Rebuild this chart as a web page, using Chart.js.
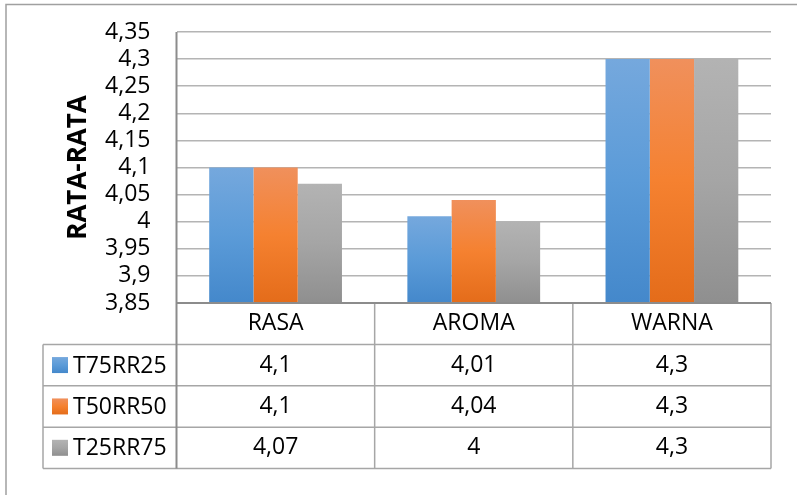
<!DOCTYPE html>
<html>
<head>
<meta charset="utf-8">
<script src="https://cdn.jsdelivr.net/npm/chart.js@4/dist/chart.umd.min.js"></script>
<style>
  html, body { margin: 0; padding: 0; background: #fff; }
  #wrap { width: 797px; height: 495px; position: relative; }
</style>
</head>
<body>
<div id="wrap"><canvas id="c" width="797" height="495"></canvas></div>
<script>
// Sensory scores (mean) per attribute and formulation
const categories = ['RASA', 'AROMA', 'WARNA'];
const seriesNames = ['T75RR25', 'T50RR50', 'T25RR75'];
const t75rr25 = [4.1, 4.01, 4.3];
const t50rr50 = [4.1, 4.04, 4.3];
const t25rr75 = [4.07, 4.0, 4.3];
const yTickValues = [3.85, 3.9, 3.95, 4.0, 4.05, 4.1, 4.15, 4.2, 4.25, 4.3, 4.35];
const yTickLabels = ['3,85', '3,9', '3,95', '4', '4,05', '4,1', '4,15', '4,2', '4,25', '4,3', '4,35'];
const axisTitle = 'RATA-RATA';

const FONT = "'Open Sans', 'DejaVu Sans', sans-serif";
const TEXT_SIZE = 23;
const LINE = '#a6a6a6';
const AXIS = '#8c8c8c';

// top / middle / bottom colour stops for each series
const fills = [
  ['#75a8dd', '#5b9bd8', '#4488cb'],
  ['#f0905c', '#f58130', '#e46c1a'],
  ['#b3b3b3', '#a5a5a5', '#8f8f8f']
];

function gradient(ctx, top, bottom, stops) {
  const g = ctx.createLinearGradient(0, top, 0, bottom);
  g.addColorStop(0, stops[0]);
  g.addColorStop(0.5, stops[1]);
  g.addColorStop(1, stops[2]);
  return g;
}

function barFill(stops) {
  return (context) => {
    const chart = context.chart;
    const y = chart.scales.y;
    if (context.type !== 'data' || !y || !chart.chartArea) return stops[1];
    const top = y.getPixelForValue(context.raw);
    const bottom = y.getPixelForValue(y.min);
    if (!isFinite(top) || !isFinite(bottom) || bottom - top < 1) return stops[1];
    return gradient(chart.ctx, top, bottom, stops);
  };
}

const fmt = (v) => String(v).replace('.', ',');

// white page with the thin frame on the top and left
const frame = {
  id: 'frame',
  beforeDraw(chart) {
    const c = chart.ctx;
    c.save();
    c.fillStyle = '#fff';
    c.fillRect(0, 0, chart.width, chart.height);
    c.strokeStyle = '#a0a0a0';
    c.lineWidth = 1.5;
    c.beginPath();
    c.moveTo(6, chart.height);
    c.lineTo(6, 4.5);
    c.lineTo(chart.width, 4.5);
    c.stroke();
    c.restore();
  }
};

// data table under the plot: category row, then one row per series with legend key
const dataTable = {
  id: 'dataTable',
  afterDraw(chart) {
    const c = chart.ctx;
    const area = chart.chartArea;
    const xs = chart.scales.x;
    const top = area.bottom;
    const bottom = 468.5;
    const rowH = (bottom - top) / 4;
    const colW = (area.right - area.left) / categories.length;
    const tableLeft = 43;
    const series = [t75rr25, t50rr50, t25rr75];

    c.save();
    c.strokeStyle = LINE;
    c.lineWidth = 1.5;
    c.beginPath();
    for (let r = 1; r <= 4; r++) {
      const y = top + r * rowH;
      c.moveTo(tableLeft, y);
      c.lineTo(area.right, y);
    }
    c.moveTo(tableLeft, top + rowH);
    c.lineTo(tableLeft, bottom);
    for (let i = 1; i <= categories.length; i++) {
      const x = area.left + i * colW;
      c.moveTo(x, top);
      c.lineTo(x, bottom);
    }
    c.stroke();

    // axis lines
    c.strokeStyle = AXIS;
    c.lineWidth = 2;
    c.beginPath();
    c.moveTo(area.left, area.top);
    c.lineTo(area.left, bottom);
    c.moveTo(area.left, top);
    c.lineTo(area.right, top);
    c.stroke();

    c.fillStyle = '#000';
    c.font = TEXT_SIZE + 'px ' + FONT;
    c.textBaseline = 'middle';
    c.textAlign = 'center';
    categories.forEach((name, i) => {
      const cx = xs.getPixelForTick(i);
      c.fillText(name, cx, top + rowH / 2);
      series.forEach((vals, s) => {
        c.fillText(fmt(vals[i]), cx, top + (s + 1.5) * rowH);
      });
    });

    c.textAlign = 'left';
    seriesNames.forEach((name, s) => {
      const cy = top + (s + 1.5) * rowH;
      c.fillStyle = gradient(c, cy - 8, cy + 8, fills[s]);
      c.fillRect(52, cy - 8, 16, 16);
      c.fillStyle = '#000';
      c.fillText(name, 73, cy + 1);
    });
    c.restore();
  }
};

new Chart(document.getElementById('c'), {
  type: 'bar',
  data: {
    labels: categories,
    datasets: [
      { label: seriesNames[0], data: t75rr25, backgroundColor: barFill(fills[0]) },
      { label: seriesNames[1], data: t50rr50, backgroundColor: barFill(fills[1]) },
      { label: seriesNames[2], data: t25rr75, backgroundColor: barFill(fills[2]) }
    ]
  },
  options: {
    responsive: false,
    animation: false,
    devicePixelRatio: 1,
    layout: { padding: { left: 0, top: 32, right: 26, bottom: 26.5 } },
    datasets: { bar: { categoryPercentage: 0.67, barPercentage: 1.0, borderWidth: 0 } },
    plugins: { legend: { display: false }, tooltip: { enabled: false }, title: { display: false } },
    scales: {
      x: {
        ticks: { display: false },
        grid: { display: false },
        border: { display: false },
        afterFit(scale) { scale.height = 165.5; }
      },
      y: {
        min: 3.85,
        max: 4.35,
        afterBuildTicks(scale) { scale.ticks = yTickValues.map(v => ({ value: v })); },
        ticks: {
          autoSkip: false,
          padding: 26,
          color: '#000',
          font: { family: FONT, size: TEXT_SIZE },
          callback: (v, i) => yTickLabels[i]
        },
        grid: { color: '#b4b4b4', lineWidth: 1.5, drawTicks: false },
        border: { display: false },
        title: {
          display: true,
          text: axisTitle,
          color: '#000',
          font: { family: FONT, size: 26, weight: 'bold' },
          padding: { top: 63, bottom: 0 }
        },
        afterFit(scale) {
          scale.width = 176.5;
          scale.paddingTop = 0;
          scale.paddingBottom = 0;
        }
      }
    }
  },
  plugins: [frame, dataTable]
});
</script>
</body>
</html>
